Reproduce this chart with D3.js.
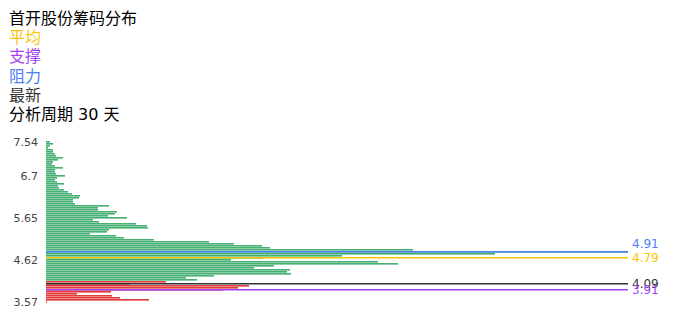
<!DOCTYPE html>
<html>
<head>
<meta charset="utf-8">
<script src="https://cdn.jsdelivr.net/npm/d3@7"></script>
<style>
  body { margin: 0; background: #fff; }
  svg { display: block; font-family: "DejaVu Sans", "Noto Sans CJK SC", sans-serif; }
</style>
</head>
<body>
<div id="chart"></div>
<script>
// price levels, bottom to top
const prices = ['3.57','3.62','3.67','3.72','3.77','3.82','3.87','3.92','3.97','4.02',
  '4.07','4.12','4.17','4.22','4.26','4.31','4.36','4.41','4.46','4.51',
  '4.56','4.62','4.66','4.71','4.76','4.81','4.86','4.91','4.96','5.01',
  '5.06','5.11','5.16','5.21','5.26','5.31','5.36','5.41','5.46','5.51',
  '5.56','5.60','5.65','5.70','5.75','5.80','5.85','5.90','5.95','6.00',
  '6.05','6.10','6.15','6.20','6.25','6.30','6.35','6.40','6.45','6.50',
  '6.55','6.60','6.65','6.7','6.75','6.80','6.85','6.90','6.95','6.99',
  '7.04','7.09','7.14','7.19','7.24','7.29','7.34','7.39','7.44','7.49','7.54'];

// chips at each price level
const chips = [1,103,74,66,31,65,177,192,203,84,
  120,151,140,168,245,241,244,208,228,352,
  332,185,217,296,449,582,367,224,216,188,
  163,108,78,70,44,61,63,102,101,90,
  53,47,81,62,69,71,52,52,63,29,
  27,27,33,34,26,22,18,13,12,18,
  11,9,11,19,10,9,9,17,9,6,
  7,12,17,10,9,7,7,2,4,7,4];

const tickLabels = ['3.57','4.62','5.65','6.7','7.54'];

const latestPrice = 4.09;

// reference lines: label value and the price level they sit on
const markNames = ['阻力','平均','最新','支撑'];
const markValues = ['4.91','4.79','4.09','3.91'];
const markLevels = ['4.81','4.66','4.02','3.87'];

const legendNames = ['平均','支撑','阻力','最新'];

const colors = {
  '平均': '#f7c600',
  '支撑': '#a43ff2',
  '阻力': '#4b7ff7',
  '最新': '#333333',
  up: '#46af73',
  down: '#e23c3c'
};

const width = 696, height = 320;
const svg = d3.select('#chart').append('svg')
  .attr('width', width)
  .attr('height', height);

// title block
const head = svg.append('g').attr('transform', 'translate(9,0)');
head.append('text').attr('y', 24).style('font-size', '16px').attr('fill', '#000').text('首开股份筹码分布');
legendNames.forEach((n, i) => {
  head.append('text')
    .attr('y', 43 + i * 19.3)
    .style('font-size', '16px')
    .attr('fill', colors[n])
    .text(n);
});
head.append('text').attr('y', 120).style('font-size', '16px').attr('fill', '#000').text('分析周期 30 天');

const x = d3.scaleLinear()
  .domain([0, d3.max(chips)])
  .range([46, 628]);

const y = d3.scaleBand()
  .domain(prices)
  .range([303, 141])
  .paddingInner(0.19)
  .paddingOuter(0.095);

const rows = prices.map((p, i) => ({ price: p, value: chips[i] }));

// one solid pixel row plus a partial one, like the striped original
svg.append('g')
  .selectAll('rect')
  .data(rows)
  .join('rect')
  .attr('x', x(0))
  .attr('y', d => Math.round(y(d.price)))
  .attr('height', y.bandwidth())
  .attr('width', d => x(d.value) - x(0))
  .attr('fill', d => +d.price <= latestPrice ? colors.down : colors.up);

// price axis labels only
const yAxis = d3.axisLeft(y)
  .tickValues(tickLabels)
  .tickSize(0)
  .tickPadding(8);

const ga = svg.append('g')
  .attr('transform', `translate(${x(0)},0)`)
  .call(yAxis);
ga.select('.domain').remove();
ga.selectAll('text')
  .style('font-size', '11px')
  .style('font-family', '"DejaVu Sans", sans-serif')
  .attr('fill', '#444');

// mark lines
const labelShift = { '阻力': -8 };
const marks = markNames.map((n, i) => ({ name: n, value: markValues[i], level: markLevels[i] }));
const gm = svg.append('g');
marks.forEach(m => {
  const yy = Math.round(y(m.level)) + 0.75;
  gm.append('line')
    .attr('x1', x(0)).attr('x2', x.range()[1])
    .attr('y1', yy).attr('y2', yy)
    .attr('stroke', colors[m.name])
    .attr('stroke-width', 1.5);
  gm.append('text')
    .attr('x', x.range()[1] + 4)
    .attr('y', yy + (labelShift[m.name] || 0))
    .attr('dy', '0.35em')
    .style('font-size', '12px')
    .style('font-family', '"DejaVu Sans", sans-serif')
    .attr('fill', colors[m.name])
    .text(m.value);
});
</script>
</body>
</html>
